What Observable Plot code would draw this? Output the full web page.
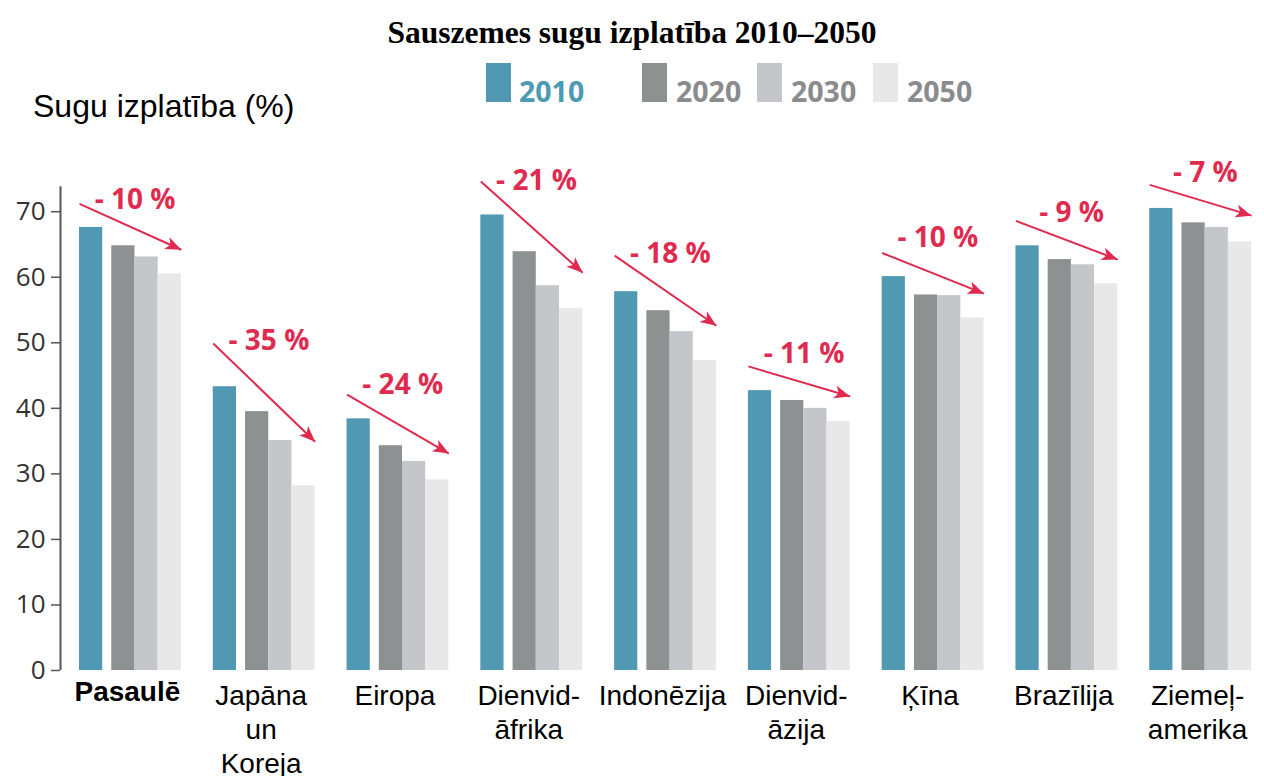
<!DOCTYPE html>
<html>
<head>
<meta charset="utf-8">
<script src="https://cdn.jsdelivr.net/npm/d3@7"></script>
<script src="https://cdn.jsdelivr.net/npm/@observablehq/plot@0.6"></script>
<style>
  body { margin:0; width:1264px; height:776px; position:relative; overflow:hidden; background:#fff; }
  #title { position:absolute; top:17px; left:0; width:1264px; text-align:center; font:bold 31.5px "Liberation Serif", serif; line-height:31px; color:#000; }
  #ylabel { position:absolute; top:91px; left:33px; font:32px "Liberation Sans", sans-serif; line-height:30px; color:#000; white-space:nowrap; }
  .lg-rect { position:absolute; top:63px; width:25px; height:39px; }
  .lg-text { position:absolute; top:77px; font:bold 28.5px "Open Sans", sans-serif; line-height:28px; white-space:nowrap; }
  #chart { position:absolute; top:140px; left:0; }
</style>
</head>
<body>
<div id="title">Sauszemes sugu izplatība 2010–2050</div>
<div id="ylabel">Sugu izplatība (%)</div>
<div id="legend"></div>
<div id="chart"></div>
<script>
// ---- data ----
const regions = ["Pasaulē", "Japāna\nun\nKoreja", "Eiropa", "Dienvid-\nāfrika", "Indonēzija", "Dienvid-\nāzija", "Ķīna", "Brazīlija", "Ziemeļ-\namerika"];
const years = ["2010", "2020", "2030", "2050"];
const v2010 = [67.6, 43.3, 38.4, 69.5, 57.8, 42.7, 60.1, 64.8, 70.5];
const v2020 = [64.8, 39.5, 34.3, 63.9, 54.9, 41.2, 57.3, 62.7, 68.3];
const v2030 = [63.1, 35.1, 31.9, 58.7, 51.7, 40.0, 57.2, 61.9, 67.6];
const v2050 = [60.5, 28.2, 29.1, 55.2, 47.3, 38.0, 53.8, 59.0, 65.4];
const changeLabels = ["- 10 %", "- 35 %", "- 24 %", "- 21 %", "- 18 %", "- 11 %", "- 10 %", "- 9 %", "- 7 %"];
const arrowFrom = [71.2, 49.9, 42.1, 74.6, 63.3, 46.4, 63.7, 68.6, 74.1];
const arrowTo = [64.2, 34.9, 33.1, 60.7, 52.6, 41.8, 57.5, 62.7, 69.4];
const labelAt = [71.8, 50.3, 43.5, 74.7, 63.6, 48.3, 66.0, 69.8, 75.9];
const yTicks = [0, 10, 20, 30, 40, 50, 60, 70];

// ---- styles ----
const colors = ["#5199b3", "#8d9192", "#c4c6c9", "#e8e8e8"];
const legendText = ["#4d9ab4", "#8a8b8e", "#8a8b8e", "#8a8b8e"];
const red = "#e02b50";

// ---- legend (HTML) ----
const legend = document.getElementById("legend");
const rectLeft = [486, 642, 757, 873];
const textLeft = [519, 676, 791, 907];
years.forEach((y, i) => {
  const r = document.createElement("div");
  r.className = "lg-rect"; r.style.left = rectLeft[i] + "px"; r.style.background = colors[i];
  legend.appendChild(r);
  const t = document.createElement("div");
  t.className = "lg-text"; t.style.left = textLeft[i] + "px"; t.style.color = legendText[i];
  t.textContent = y;
  legend.appendChild(t);
});

// ---- table ----
const series = [v2010, v2020, v2030, v2050];
const slot = [0, 1.39, 2.39, 3.39];
const rows = [];
regions.forEach((r, i) => {
  years.forEach((y, j) => {
    rows.push({region: r, year: y, value: series[j][i], x1: slot[j], x2: slot[j] + 1});
  });
});
const ann = regions.map((r, i) => ({region: r, from: arrowFrom[i], to: arrowTo[i], label: changeLabels[i], ly: labelAt[i]}));

const xMin = -0.819, xMax = 4.947;

const plot = Plot.plot({
  width: 1264,
  height: 636,
  marginTop: 45,
  marginBottom: 106,
  marginLeft: 60,
  marginRight: 0,
  style: {background: "transparent", overflow: "visible"},
  fx: {domain: regions, padding: 0, round: false, label: null},
  x: {domain: [xMin, xMax], axis: null},
  y: {domain: [0, 74], label: null},
  color: {domain: years, range: colors},
  marks: [
    Plot.rect(rows, {fx: "region", x1: "x1", x2: "x2", y1: 0, y2: "value", fill: "year"}),
    Plot.ruleX([regions[0]], {fx: d => d, x: xMin, y1: 0, y2: 73.8, stroke: "#555", strokeWidth: 2}),
    Plot.axisY({ticks: yTicks, tickSize: 9, tickPadding: 6, fontSize: 26, fontFamily: "Open Sans", stroke: "#555", strokeWidth: 1.5, fill: "#333", label: null}),
    Plot.link(ann, {fx: "region", x1: 0, x2: 4.39, y1: "from", y2: "to", stroke: red, strokeWidth: 2, markerEnd: "arrow"}),
    Plot.text(ann, {fx: "region", x: 2.4, y: "ly", text: "label", fill: red, fontSize: 28, fontWeight: "bold", fontFamily: "Open Sans"}),
    Plot.axisFx({anchor: "bottom", tickSize: 0, tickPadding: 11, fontSize: 28, lineHeight: 1.2, fontFamily: "Liberation Sans", fill: "#000", label: null,
      tickFormat: d => d === regions[0] ? "" : d}),
    Plot.axisFx({anchor: "bottom", ticks: [regions[0]], tickSize: 0, tickPadding: 11, fontSize: 28, fontWeight: "bold", fontFamily: "Liberation Sans", fill: "#000", label: null})
  ]
});

// filled arrowheads
plot.querySelectorAll("marker").forEach(m => {
  const c = m.getAttribute("stroke") || red;
  m.setAttribute("viewBox", "-17 -7 18 14");
  m.setAttribute("markerUnits", "userSpaceOnUse");
  m.setAttribute("markerWidth", "18");
  m.setAttribute("markerHeight", "14");
  m.setAttribute("refX", "0");
  m.setAttribute("refY", "0");
  m.setAttribute("fill", c);
  m.setAttribute("stroke", "none");
  while (m.firstChild) m.removeChild(m.firstChild);
  const p = document.createElementNS("http://www.w3.org/2000/svg", "path");
  p.setAttribute("d", "M-16,-6.5L0,0L-16,6.5L-12,0Z");
  m.appendChild(p);
});

document.getElementById("chart").appendChild(plot);
</script>
</body>
</html>
